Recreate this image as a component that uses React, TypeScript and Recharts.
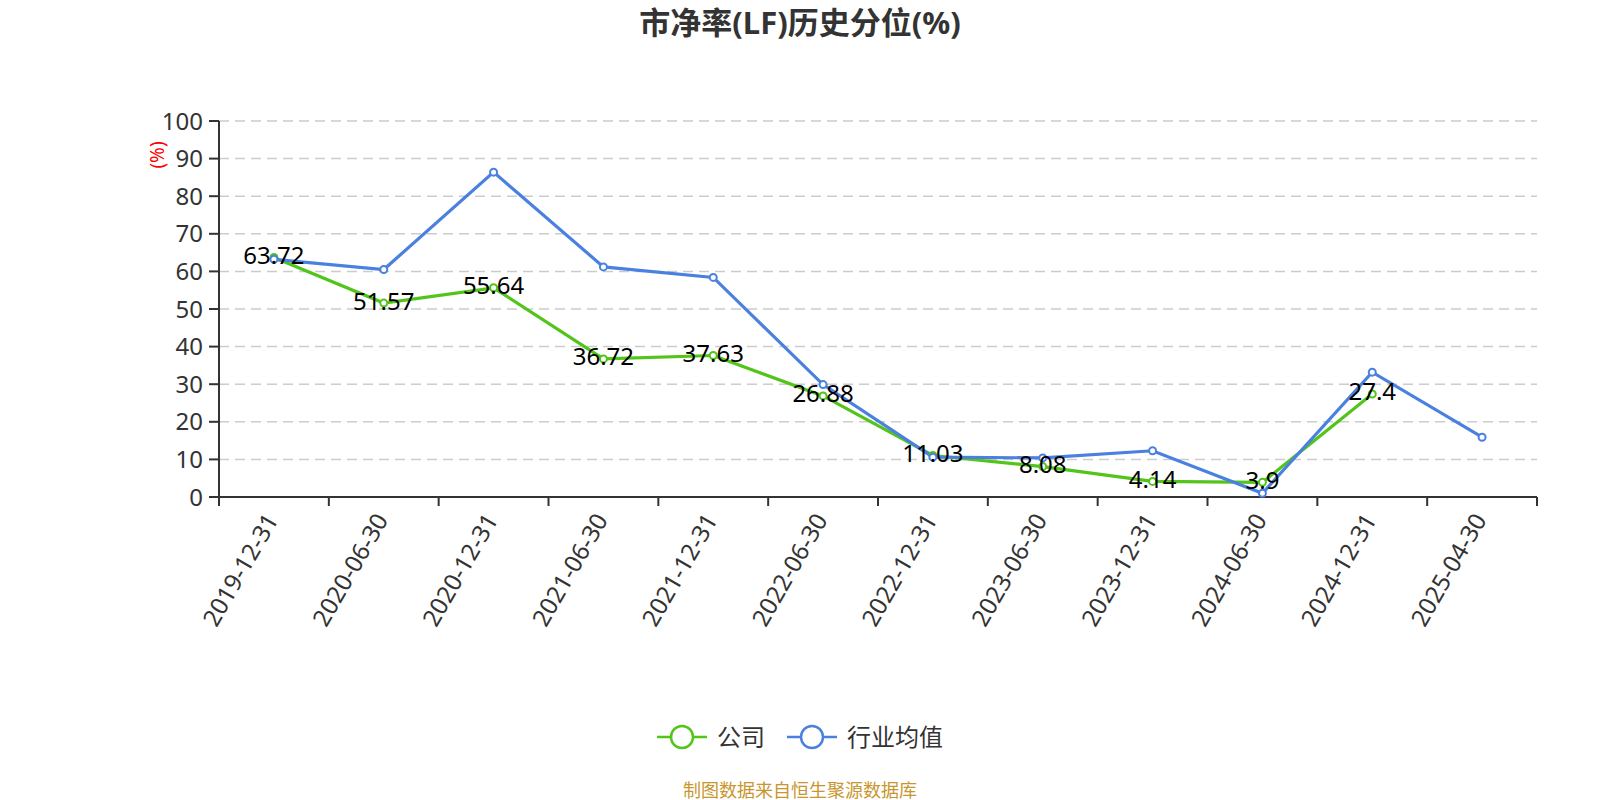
import React from 'react'
import { CartesianGrid, Line, LineChart, XAxis, YAxis } from 'recharts'

const DATES = [
  '2019-12-31', '2020-06-30', '2020-12-31', '2021-06-30', '2021-12-31', '2022-06-30',
  '2022-12-31', '2023-06-30', '2023-12-31', '2024-06-30', '2024-12-31', '2025-04-30',
]
const COMPANY = [63.72, 51.57, 55.64, 36.72, 37.63, 26.88, 11.03, 8.08, 4.14, 3.9, 27.4, null]
const INDUSTRY = [63.2, 60.5, 86.4, 61.2, 58.4, 29.9, 10.6, 10.4, 12.3, 1.0, 33.2, 15.9]
const Y_TICKS = [0, 10, 20, 30, 40, 50, 60, 70, 80, 90, 100]

const GREEN = '#52c41a'
const BLUE = '#4a80e0'
const FONT = '"Noto Sans", "Noto Sans CJK SC", sans-serif'

const W = 1600
const H = 800
const MARGIN = { top: 121, right: 63, bottom: 0, left: 0 }
const Y_WIDTH = 219
const X_HEIGHT = 303
const BAND = (W - Y_WIDTH - MARGIN.right) / DATES.length

const data = DATES.map((date, i) => ({ date, company: COMPANY[i], industry: INDUSTRY[i] }))

function XTick(props: any) {
  const { x, y, payload, index } = props
  const ax = x - 3
  const ay = y + 18
  return (
    <g>
      <line x1={x - BAND / 2} x2={x - BAND / 2} y1={y} y2={y + 9} stroke="#333" strokeWidth={2} />
      {index === DATES.length - 1 && (
        <line x1={x + BAND / 2} x2={x + BAND / 2} y1={y} y2={y + 9} stroke="#333" strokeWidth={2} />
      )}
      <text
        x={ax}
        y={ay}
        transform={`rotate(-60, ${ax}, ${ay})`}
        textAnchor="end"
        dominantBaseline="central"
        fontSize={24}
        fill="#333"
        fontFamily={FONT}
      >
        {payload.value}
      </text>
    </g>
  )
}

function ValueLabel(props: any) {
  const { x, y, value } = props
  if (value == null) return null
  return (
    <text x={x} y={y - 3} textAnchor="middle" dominantBaseline="central" fontSize={24} fill="#000" fontFamily={FONT}>
      {value}
    </text>
  )
}

function LegendIcon({ color }: { color: string }) {
  return (
    <svg width={50} height={26}>
      <line x1={0} x2={50} y1={13} y2={13} stroke={color} strokeWidth={2.5} />
      <circle cx={25} cy={13} r={11} fill="#fff" stroke={color} strokeWidth={2.5} />
    </svg>
  )
}

export default function App() {
  return (
    <div style={{ position: 'absolute', left: 0, top: 0, width: W, height: H, background: '#fff', fontFamily: FONT }}>
      <div
        style={{
          position: 'absolute', top: 7, left: 0, width: W, textAlign: 'center',
          fontSize: 31, lineHeight: '31px', fontWeight: 'bold', color: '#333',
        }}
      >
        市净率(LF)历史分位(%)
      </div>
      <div
        style={{
          position: 'absolute', left: 157 - 30, top: 155 - 11, width: 60, height: 22,
          textAlign: 'center', fontSize: 19, lineHeight: '22px', color: 'red', transform: 'rotate(-90deg)',
        }}
      >
        (%)
      </div>
      <LineChart width={W} height={H} data={data} margin={MARGIN}>
        <CartesianGrid vertical={false} stroke="#ccc" strokeDasharray="10 6" strokeWidth={1.5} />
        <XAxis
          dataKey="date"
          scale="band"
          interval={0}
          height={X_HEIGHT}
          tickLine={false}
          tickSize={0}
          tickMargin={0}
          axisLine={{ stroke: '#333', strokeWidth: 2 }}
          tick={<XTick />}
        />
        <YAxis
          width={Y_WIDTH}
          domain={[0, 100]}
          ticks={Y_TICKS}
          interval={0}
          tickSize={10}
          tickMargin={6}
          axisLine={{ stroke: '#333', strokeWidth: 2 }}
          tickLine={{ stroke: '#333', strokeWidth: 2 }}
          tick={{ fill: '#333', fontSize: 24, fontFamily: FONT }}
        />
        <Line
          dataKey="company"
          stroke={GREEN}
          strokeWidth={3.2}
          dot={{ r: 3.5, fill: '#fff', stroke: GREEN, strokeWidth: 2 }}
          activeDot={false}
          isAnimationActive={false}
        />
        <Line
          dataKey="industry"
          stroke={BLUE}
          strokeWidth={3.2}
          dot={{ r: 3.5, fill: '#fff', stroke: BLUE, strokeWidth: 2 }}
          activeDot={false}
          isAnimationActive={false}
        />
        <Line
          dataKey="company"
          stroke="none"
          dot={false}
          activeDot={false}
          legendType="none"
          label={<ValueLabel />}
          isAnimationActive={false}
        />
      </LineChart>
      <div
        style={{
          position: 'absolute', top: 724, left: 0, width: W, display: 'flex',
          justifyContent: 'center', alignItems: 'center', fontSize: 24, color: '#333',
        }}
      >
        <LegendIcon color={GREEN} />
        <span style={{ marginLeft: 10, marginRight: 22, lineHeight: '26px' }}>公司</span>
        <LegendIcon color={BLUE} />
        <span style={{ marginLeft: 10, lineHeight: '26px' }}>行业均值</span>
      </div>
      <div
        style={{
          position: 'absolute', top: 780, left: 0, width: W, textAlign: 'center',
          fontSize: 18, lineHeight: '20px', color: '#c8962e',
        }}
      >
        制图数据来自恒生聚源数据库
      </div>
    </div>
  )
}
